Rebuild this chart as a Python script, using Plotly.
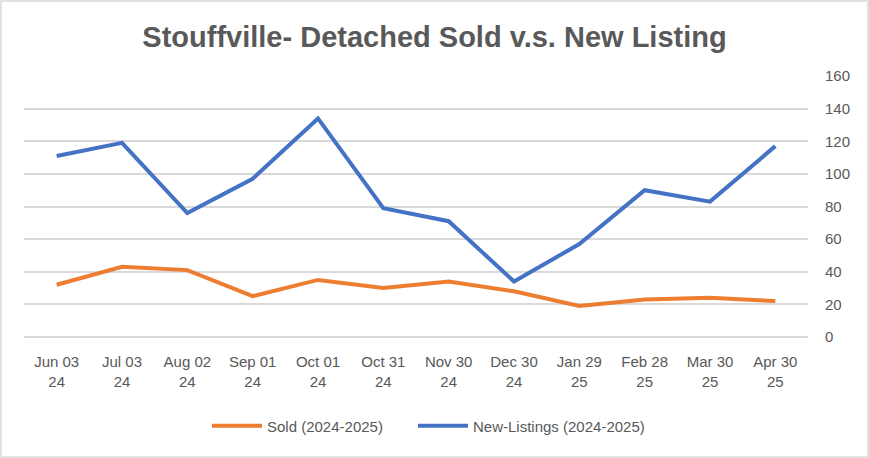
import plotly.graph_objects as go

categories = ["Jun 03<br>24", "Jul 03<br>24", "Aug 02<br>24", "Sep 01<br>24", "Oct 01<br>24",
              "Oct 31<br>24", "Nov 30<br>24", "Dec 30<br>24", "Jan 29<br>25", "Feb 28<br>25",
              "Mar 30<br>25", "Apr 30<br>25"]
sold = [32, 43, 41, 25, 35, 30, 34, 28, 19, 23, 24, 22]
new_listings = [111, 119, 76, 97, 134, 79, 71, 34, 57, 90, 83, 117]

W, H = 869, 458
ml, mr, mt, mb = 24, 61, 76, 121
font = "Liberation Sans"
grey = "#595959"

fig = go.Figure()
fig.add_trace(go.Scatter(x=categories, y=sold, mode="lines", name="Sold (2024-2025)",
                         line=dict(color="#ED7D31", width=4), legend="legend"))
fig.add_trace(go.Scatter(x=categories, y=new_listings, mode="lines", name="New-Listings (2024-2025)",
                         line=dict(color="#4472C4", width=4), legend="legend2"))

pw = W - ml - mr
ph = H - mt - mb
leg_y = -(426 - 337) / ph
leg_common = dict(orientation="h", yanchor="middle", y=leg_y, xanchor="left",
                  font=dict(family=font, size=15, color=grey), itemwidth=50,
                  bgcolor="rgba(0,0,0,0)")
fig.update_layout(
    width=W, height=H,
    margin=dict(l=ml, r=mr, t=mt, b=mb, autoexpand=False),
    paper_bgcolor="white", plot_bgcolor="white",
    title=dict(text="<b>Stouffville- Detached Sold v.s. New Listing</b>", x=0.5, xanchor="center",
               y=1 - 37 / H, yanchor="middle",
               font=dict(family=font, size=29, color=grey)),
    font=dict(family=font, size=15, color=grey),
    showlegend=True,
    legend=dict(x=(207 - ml) / pw, **leg_common),
    legend2=dict(x=(413 - ml) / pw, **leg_common),
    xaxis=dict(type="category", range=[-0.5, len(categories) - 0.5], showgrid=False, zeroline=False,
               showline=False, ticks="", tickfont=dict(family=font, size=15, color=grey),
               ticklabelstandoff=14),
    yaxis=dict(side="right", range=[0, 160], dtick=20, showgrid=True, gridcolor="#D9D9D9", gridwidth=1.5,
               zeroline=True, zerolinecolor="#D9D9D9", zerolinewidth=1.5, showline=False, ticks="",
               tickfont=dict(family=font, size=15, color=grey), ticklabelstandoff=16),
    shapes=[dict(type="rect", xref="paper", yref="paper",
                 x0=(-ml + 1) / pw, x1=(W - ml - 1) / pw,
                 y0=(-mb + 1) / ph, y1=(H - mb - 1) / ph,
                 line=dict(color="#D9D9D9", width=1.5), fillcolor="rgba(0,0,0,0)", layer="below")],
)

fig.write_html("out.html", config={"displayModeBar": False},
               post_script="document.body.style.margin='0';document.body.style.padding='0';")
